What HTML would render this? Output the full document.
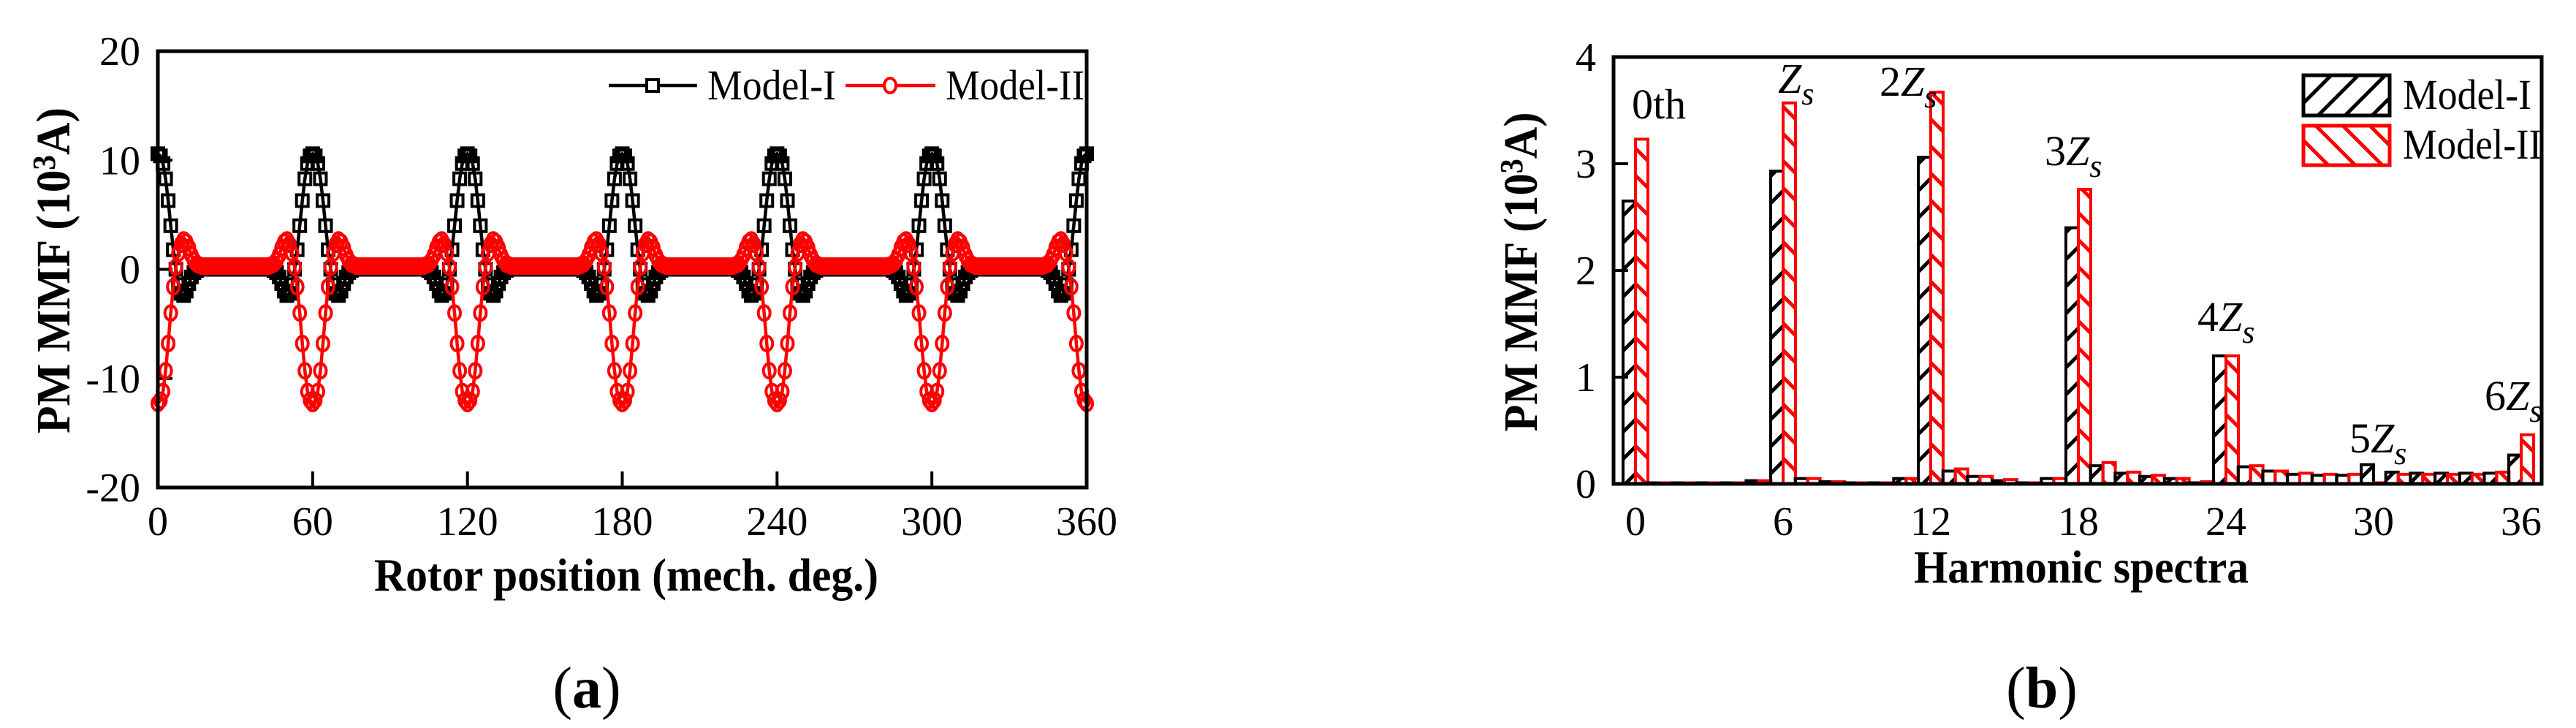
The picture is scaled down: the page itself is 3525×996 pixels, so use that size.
<!DOCTYPE html>
<html><head><meta charset="utf-8"><style>
html,body{margin:0;padding:0;background:#fff;}
svg{display:block;font-family:"Liberation Serif",serif;}
</style></head><body>
<svg id="fig" width="3525" height="996" viewBox="0 0 3525 996" xmlns="http://www.w3.org/2000/svg">
<defs>
<pattern id="hatchBlack" patternUnits="userSpaceOnUse" width="37" height="37"><path d="M0,37 L37,0 M-5,5 L5,-5 M32,42 L42,32" stroke="#000" stroke-width="5"/></pattern>
<pattern id="hatchRed" patternUnits="userSpaceOnUse" width="37" height="37"><path d="M0,0 L37,37 M-5,32 L5,42 M32,-5 L42,5" stroke="#f00" stroke-width="5"/></pattern>
</defs>
<g id="panelA"></g>
<g id="panelB"></g>
</svg>
<script>
// ---------- Panel (a) data ----------
const periodI = [10.6,10.4,9.7,8.3,6.3,4.0,1.8,0.0,-1.4,-2.2,-2.4,-2.0,-1.3,-0.7,-0.3,-0.1,0,0,0,0,0,0,0,0,0,0,0,0,0,0,0,0,0,0,0,0,0,0,0,0,0,0,0,0,0,-0.1,-0.3,-0.7,-1.3,-2.0,-2.4,-2.2,-1.4,0.0,1.8,4.0,6.3,8.3,9.7,10.4];
const periodII = [-12.3,-12.0,-11.2,-9.3,-6.8,-4.0,-1.6,0.2,1.5,2.3,2.7,2.5,2.0,1.3,0.8,0.5,0.4,0.3,0.3,0.3,0.3,0.3,0.3,0.3,0.3,0.3,0.3,0.3,0.3,0.3,0.3,0.3,0.3,0.3,0.3,0.3,0.3,0.3,0.3,0.3,0.3,0.3,0.3,0.3,0.4,0.5,0.8,1.3,2.0,2.5,2.7,2.3,1.5,0.2,-1.6,-4.0,-6.8,-9.3,-11.2,-12.0];
const modelI = [].concat(periodI,periodI,periodI,periodI,periodI,periodI,[10.6]);
const modelII = [].concat(periodII,periodII,periodII,periodII,periodII,periodII,[-12.3]);
const xTicksA = [0,60,120,180,240,300,360];
const yTicksA = [20,10,0,-10,-20];
// ---------- Panel (b) data ----------
const harmonics = [0,1,2,3,4,5,6,7,8,9,10,11,12,13,14,15,16,17,18,19,20,21,22,23,24,25,26,27,28,29,30,31,32,33,34,35,36];
const specI = [2.65,0.01,0.01,0.01,0.01,0.03,2.93,0.05,0.02,0.01,0.01,0.05,3.06,0.12,0.07,0.03,0.01,0.05,2.40,0.17,0.10,0.07,0.05,0.01,1.20,0.16,0.12,0.09,0.08,0.08,0.18,0.11,0.10,0.10,0.10,0.10,0.27];
const specII = [3.23,0.01,0.01,0.01,0.01,0.03,3.57,0.05,0.02,0.01,0.01,0.05,3.67,0.14,0.07,0.04,0.01,0.05,2.76,0.20,0.11,0.08,0.05,0.02,1.20,0.17,0.12,0.10,0.09,0.09,0.01,0.09,0.09,0.09,0.09,0.11,0.46];
const xTicksB = [0,6,12,18,24,30,36];
const yTicksB = [0,1,2,3,4];
const annotH = [0,6,12,18,24,30,36];
const annotLabel = ["0th","","2","3","4","5","6"];

const NS="http://www.w3.org/2000/svg";
function mk(tag,attrs,parent,text){const e=document.createElementNS(NS,tag);for(const k in attrs)e.setAttribute(k,attrs[k]);if(text!==undefined)e.textContent=text;parent.appendChild(e);return e;}

// ---- Panel A ----
const A=document.getElementById('panelA');
const ax0=216,ax1=1487,ay0=70,ay1=667;
const xA=v=>ax0+(v-0)*(ax1-ax0)/360;
const yA=v=>ay1-(v+20)*(ay1-ay0)/40;
let t;
xTicksA.forEach(v=>{
  if(v>0&&v<360){t=mk('line',{x1:xA(v),x2:xA(v),y1:ay1,y2:ay1-22,stroke:'#000','stroke-width':4},A);
  }
  t=mk('text',{x:xA(v),y:732,'text-anchor':'middle','font-size':56},A,String(v));
  
});
yTicksA.forEach(v=>{
  if(v>-20&&v<20){t=mk('line',{x1:ax0,x2:ax0+20,y1:yA(v),y2:yA(v),stroke:'#000','stroke-width':4},A);
  }
  t=mk('text',{x:192,y:yA(v)+19,'text-anchor':'end','font-size':56},A,String(v));
  
});
function series(data,color,marker,name){
  const g=mk('g',{},A);
  
  const pts=data.map((v,i)=>xA(i)+','+yA(v)).join(' ');
  const l=mk('polyline',{points:pts,fill:'none',stroke:color,'stroke-width':4.5},g);
  
  data.forEach((v,i)=>{
    let m;
    if(marker==='sq') m=mk('rect',{x:xA(i)-8,y:yA(v)-8,width:16,height:16,fill:'none',stroke:color,'stroke-width':4},g);
    else m=mk('ellipse',{cx:xA(i),cy:yA(v),rx:8,ry:10,fill:'none',stroke:color,'stroke-width':4},g);
    
  });
}
series(modelI,'#000','sq','model-i-series');
series(modelII,'#f00','ci','model-ii-series');
t=mk('rect',{x:ax0,y:ay0,width:ax1-ax0,height:ay1-ay0,fill:'none',stroke:'#000','stroke-width':5},A);

const LA=mk('g',{},A);
mk('line',{x1:833,x2:954,y1:117,y2:117,stroke:'#000','stroke-width':4.5},LA);
mk('rect',{x:885,y:109,width:16,height:16,fill:'#fff',stroke:'#000','stroke-width':4},LA);
t=mk('text',{x:968,y:136,'font-size':58,textLength:176,lengthAdjust:'spacingAndGlyphs'},LA,'Model-I');
mk('line',{x1:1157,x2:1280,y1:117,y2:117,stroke:'#f00','stroke-width':4.5},LA);
mk('ellipse',{cx:1218,cy:117,rx:8,ry:10,fill:'#fff',stroke:'#f00','stroke-width':4},LA);
t=mk('text',{x:1294,y:136,'font-size':58,textLength:190,lengthAdjust:'spacingAndGlyphs'},LA,'Model-II');
t=mk('text',{x:857,y:808,'text-anchor':'middle','font-size':64,'font-weight':'bold',textLength:690,lengthAdjust:'spacingAndGlyphs'},A,'Rotor position (mech. deg.)');

t=mk('text',{x:0,y:0,'text-anchor':'middle','font-size':66,'font-weight':'bold',textLength:446,lengthAdjust:'spacingAndGlyphs',transform:'translate(95,370) rotate(-90)'},A);
t.innerHTML='PM MMF (10<tspan dy="-20" font-size="44">3</tspan><tspan dy="20">A)</tspan>';

t=mk('text',{x:803,y:968,'text-anchor':'middle','font-size':80},A);
t.innerHTML='(<tspan font-weight="bold">a</tspan>)';


// ---- Panel B ----
const B=document.getElementById('panelB');
const bx0=2208,bx1=3478,by0=78,by1=662;
const xB=h=>2238+h*(3450-2238)/36;
const yB=v=>by1-v*(by1-by0)/4;
const bw=17;
harmonics.forEach((h,i)=>{
  let r=mk('rect',{x:xB(h)-bw,y:yB(specI[i]),width:bw,height:by1-yB(specI[i]),fill:'url(#hatchBlack)',stroke:'#000','stroke-width':4},B);
  
  r=mk('rect',{x:xB(h),y:yB(specII[i]),width:bw,height:by1-yB(specII[i]),fill:'url(#hatchRed)',stroke:'#f00','stroke-width':4},B);
  
});
t=mk('rect',{x:bx0,y:by0,width:bx1-bx0,height:by1-by0,fill:'none',stroke:'#000','stroke-width':5},B);

yTicksB.forEach(v=>{
  if(v>0&&v<4){t=mk('line',{x1:bx0,x2:bx0+20,y1:yB(v),y2:yB(v),stroke:'#000','stroke-width':4},B);
  }
  t=mk('text',{x:2184,y:yB(v)+19,'text-anchor':'end','font-size':56},B,String(v));
  
});
xTicksB.forEach(v=>{
  t=mk('text',{x:xB(v),y:732,'text-anchor':'middle','font-size':56},B,String(v));
  
});
const annPos=[[2233,162],[2433,127],[2572,131],[2798,226],[3007,453],[3215,619],[3400,561]];
annotH.forEach((h,i)=>{
  const [ax,ay]=annPos[i];
  t=mk('text',{x:ax,y:ay,'font-size':58},B);
  if(i===0) t.textContent='0th';
  else t.innerHTML=annotLabel[i]+'<tspan font-style="italic">Z</tspan><tspan font-style="italic" font-size="44" dy="16">s</tspan>';
  
});
const LB=mk('g',{},B);
t=mk('rect',{x:3152,y:103,width:118,height:55,fill:'url(#hatchBlack)',stroke:'#000','stroke-width':5},LB);

t=mk('text',{x:3288,y:149,'font-size':58,textLength:176,lengthAdjust:'spacingAndGlyphs'},LB,'Model-I');
t=mk('rect',{x:3152,y:172,width:118,height:54,fill:'url(#hatchRed)',stroke:'#f00','stroke-width':5},LB);

t=mk('text',{x:3288,y:217,'font-size':58,textLength:190,lengthAdjust:'spacingAndGlyphs'},LB,'Model-II');
t=mk('text',{x:2848,y:797,'text-anchor':'middle','font-size':64,'font-weight':'bold',textLength:458,lengthAdjust:'spacingAndGlyphs'},B,'Harmonic spectra');

t=mk('text',{x:0,y:0,'text-anchor':'middle','font-size':66,'font-weight':'bold',textLength:437,lengthAdjust:'spacingAndGlyphs',transform:'translate(2103,372) rotate(-90)'},B);
t.innerHTML='PM MMF (10<tspan dy="-20" font-size="44">3</tspan><tspan dy="20">A)</tspan>';

t=mk('text',{x:2794,y:968,'text-anchor':'middle','font-size':80},B);
t.innerHTML='(<tspan font-weight="bold">b</tspan>)';

</script>
</body></html>
